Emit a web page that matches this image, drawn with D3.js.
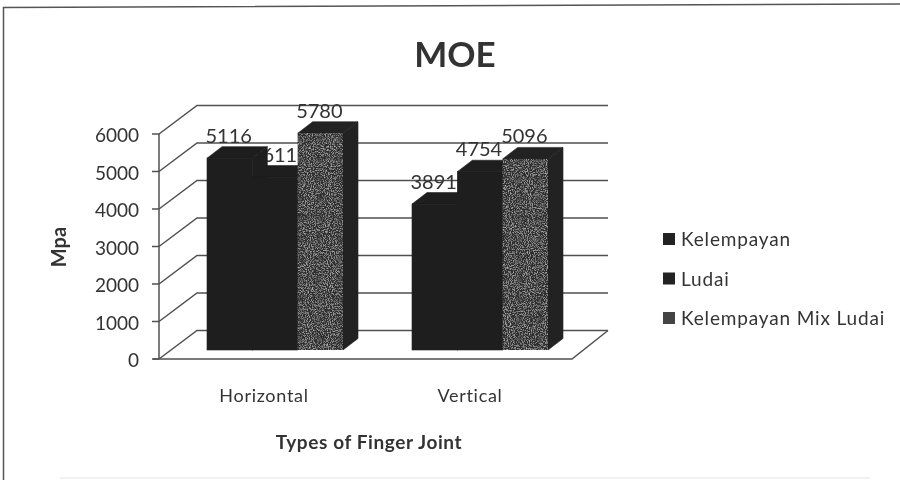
<!DOCTYPE html>
<html><head><meta charset="utf-8">
<script src="https://cdn.jsdelivr.net/npm/d3@7/dist/d3.min.js"></script>
<style>html,body{margin:0;padding:0;background:#fff}svg{display:block;filter:blur(0.6px)}text{font-family:Lato,"Open Sans",sans-serif;fill:#333}</style>
</head><body><div id="c"></div><script>
const categories=["Horizontal","Vertical"];
const seriesNames=["Kelempayan","Ludai","Kelempayan Mix Ludai"];
const kelempayan=[5116,3891];
const ludai=[4611,4754];
const mix=[5780,5096];
const yTicks=[0,1000,2000,3000,4000,5000,6000];
const title="MOE",yTitle="Mpa",xTitle="Types of Finger Joint";
const seriesValues=[kelempayan,ludai,mix];

const W=900,H=480;
const svg=d3.select("#c").append("svg").attr("width",W).attr("height",H);
const defs=svg.append("defs");
const f=defs.append("filter").attr("id","spk").attr("x",0).attr("y",0).attr("width",1).attr("height",1);
f.append("feTurbulence").attr("type","fractalNoise").attr("baseFrequency",0.95).attr("numOctaves",2).attr("seed",4).attr("result","n");
f.append("feColorMatrix").attr("in","n").attr("type","matrix").attr("values","0 0 0 0 0.5  0 0 0 0 0.5  0 0 0 0 0.5  2.4 0 0 0 -1.1").attr("result","m");
f.append("feComposite").attr("in","m").attr("in2","SourceAlpha").attr("operator","in").attr("result","c");
f.append("feMerge").selectAll("feMergeNode").data(["SourceGraphic","c"]).join("feMergeNode").attr("in",d=>d);

svg.append("path").attr("d","M3.5 480V7.5L900 4").attr("fill","none").attr("stroke","#555").attr("stroke-width",1.5);
svg.append("path").attr("d","M60 478H870").attr("fill","none").attr("stroke","#ececec").attr("stroke-width",1.5);

const y=d3.scaleLinear().domain([0,6000]).range([359,134]);
const x0=d3.scalePoint().domain(categories).range([207,412]);
const x1=d3.scaleBand().domain(seriesNames).range([0,136]);
const axisX=159,wallDx=38,wallDy=-28.5,frontDy=-9,sideDx=15,sideDy=-11.5;
const gridCol="#505050";

const grid=svg.append("g").attr("fill","none").attr("stroke",gridCol).attr("stroke-width",1.5);
yTicks.forEach(t=>{
  const p=d3.path();
  p.moveTo(axisX,y(t));p.lineTo(axisX+wallDx,y(t)+wallDy);p.lineTo(608,y(t)+wallDy);
  grid.append("path").attr("d",p.toString());
});
grid.append("path").attr("d",`M${axisX} ${y(6000)}V${y(0)}`);
grid.append("path").attr("d",`M153 ${y(0)}H572L608 ${y(0)+wallDy}`);
yTicks.forEach(t=>grid.append("path").attr("d",`M152 ${y(t)}H${axisX}`));

// labels sit under the bars: the neighbouring bar hides the start of "4611"
const lab=svg.append("g").attr("text-anchor","middle").style("font-size","20px");
categories.forEach((c,i)=>seriesNames.forEach((s,j)=>{
  const v=seriesValues[j][i],xx=x0(c)+x1(s);
  lab.append("text").attr("x",xx+x1.bandwidth()/2-1).attr("y",y(v)+frontDy+sideDy-4).text(v);
}));

const fronts=["#1e1e1e","#1e1e1e","#2e2e2e"],sides=["#1e1e1e","#1e1e1e","#222222"],tops=["#1e1e1e","#1e1e1e","#222222"];
categories.forEach((c,i)=>seriesNames.forEach((s,j)=>{
  const v=seriesValues[j][i],l=x0(c)+x1(s),w=x1.bandwidth(),r=l+w,t=y(v)+frontDy,b=y(0)+frontDy;
  const g=svg.append("g");
  g.append("path").attr("d",`M${l} ${t}L${l+sideDx} ${t+sideDy}H${r+sideDx}L${r} ${t}Z`).attr("fill",tops[j]).attr("stroke",tops[j]).attr("stroke-width",0.6);
  g.append("path").attr("d",`M${r} ${t}L${r+sideDx} ${t+sideDy}V${b+sideDy}L${r} ${b}Z`).attr("fill",sides[j]).attr("stroke",sides[j]).attr("stroke-width",0.6);
  const fr=g.append("rect").attr("x",l).attr("y",t).attr("width",w).attr("height",b-t).attr("fill",fronts[j]);
  if(j===2)fr.attr("filter","url(#spk)");else fr.attr("stroke",fronts[j]).attr("stroke-width",0.6);
}));

svg.append("text").attr("x",455).attr("y",67).attr("text-anchor","middle").style("font-size","35px").style("font-weight",700).style("fill","#333").text(title);
svg.append("g").attr("text-anchor","end").style("font-size","19px").selectAll("text").data(yTicks).join("text").attr("x",139).attr("y",d=>y(d)+8).text(d=>d);
const catX=[264,470];
svg.append("g").attr("text-anchor","middle").style("font-size","18px").style("letter-spacing","0.7px").selectAll("text").data(categories).join("text").attr("x",(d,i)=>catX[i]).attr("y",402).text(d=>d);
svg.append("text").attr("text-anchor","middle").attr("transform","translate(66,247) rotate(-90)").style("font-size","20px").style("font-weight",700).text(yTitle);
svg.append("text").attr("x",369).attr("y",449).attr("text-anchor","middle").style("font-size","19px").style("font-weight",700).style("letter-spacing","0.6px").text(xTitle);

const legY=d3.scalePoint().domain(seriesNames).range([239,318]);
const leg=svg.append("g").selectAll("g").data(seriesNames).join("g").attr("transform",d=>`translate(0,${legY(d)})`);
leg.append("rect").attr("x",663).attr("y",-6).attr("width",12).attr("height",12).attr("fill",(d,i)=>i===2?"#444":"#222");
leg.append("text").attr("x",681).attr("y",7).style("font-size","19px").style("letter-spacing","0.85px").text(d=>d);
</script></body></html>
